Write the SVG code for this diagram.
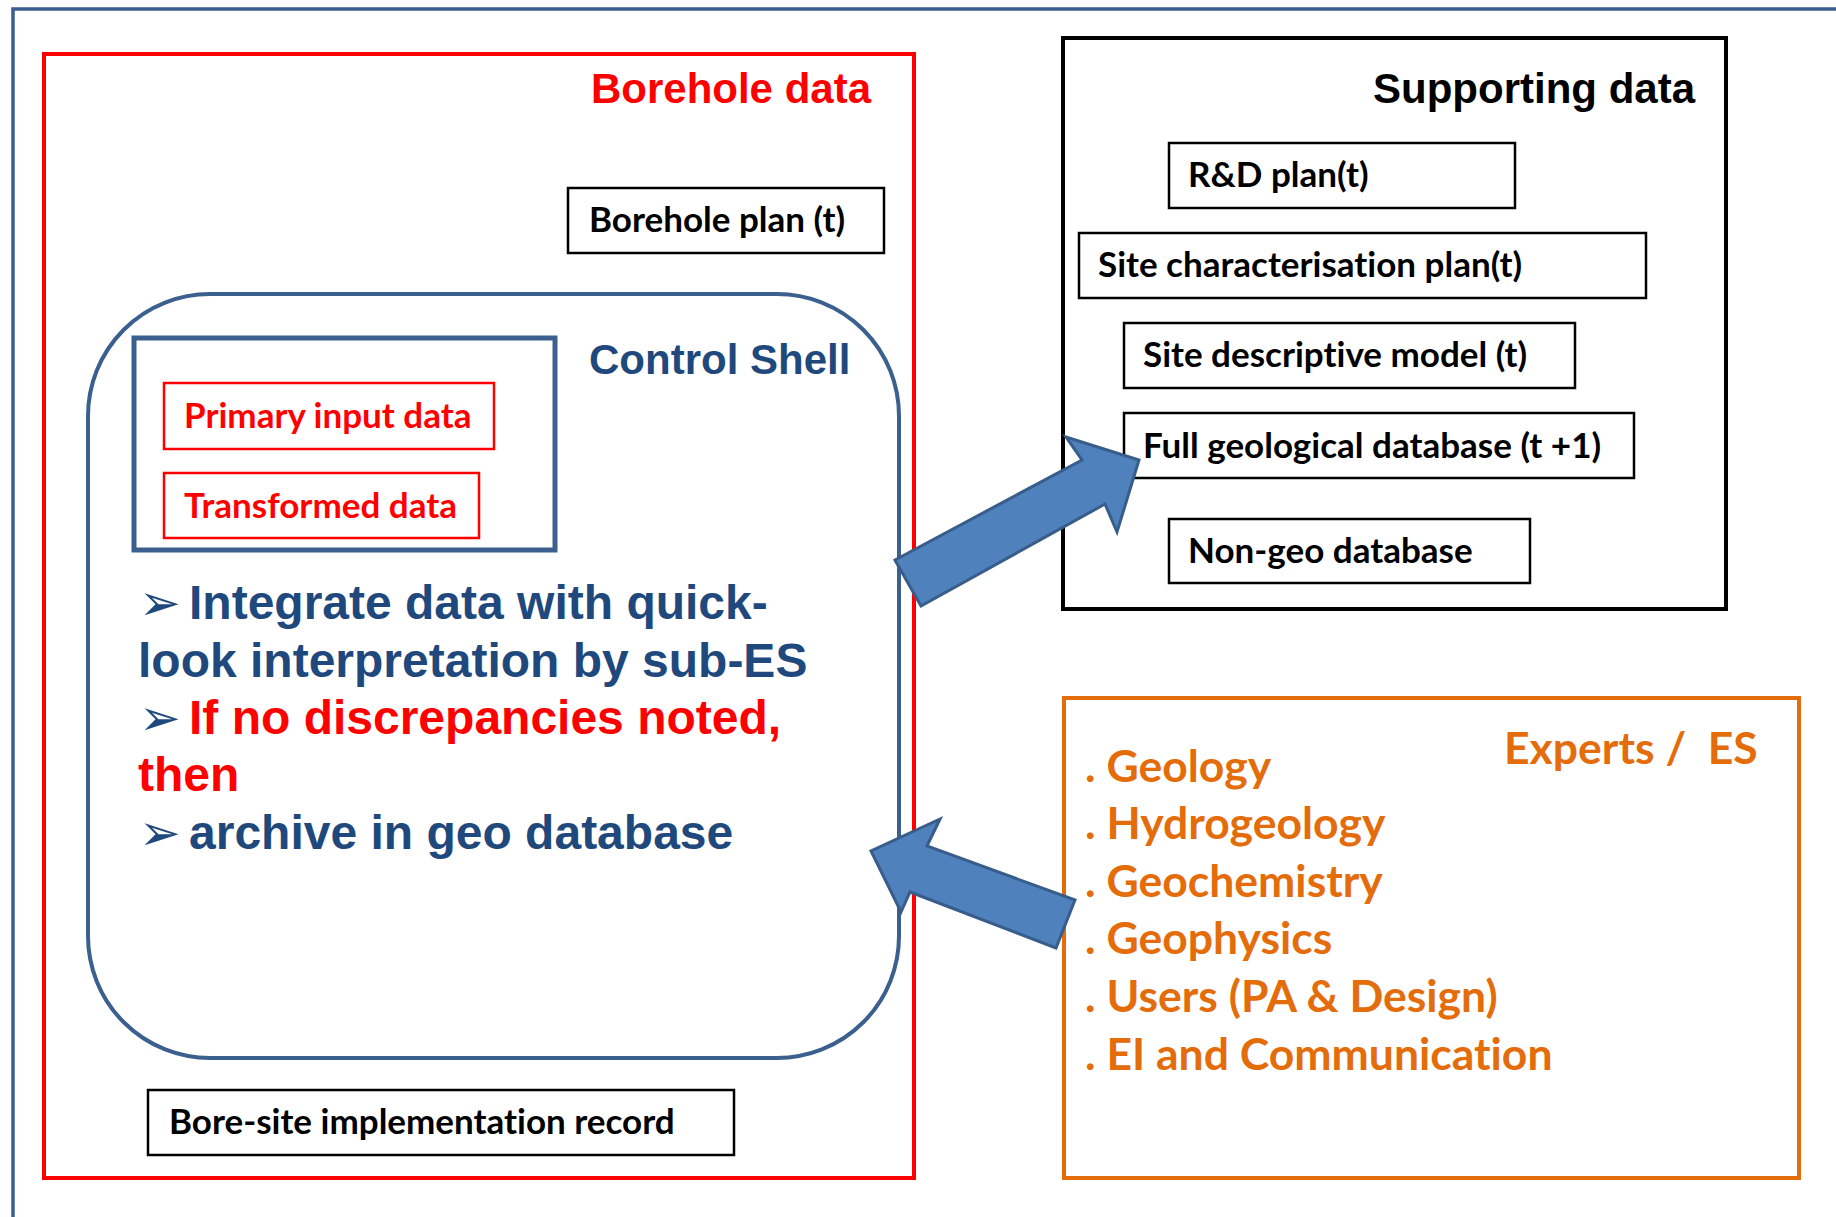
<svg xmlns="http://www.w3.org/2000/svg" width="1836" height="1217" viewBox="0 0 1836 1217">
<style>
.title{font-family:"Liberation Sans",Arial,sans-serif;font-weight:bold;font-size:42px}
.box{fill:#fff;stroke:#000;stroke-width:2.5}
.rbox{fill:#fff;stroke:#FF0000;stroke-width:2.5}
.bt{font-family:Lato,"Open Sans",sans-serif;font-weight:bold;font-size:35px;fill:#000;font-variant-ligatures:none}
.rt{font-family:Lato,"Open Sans",sans-serif;font-weight:bold;font-size:35px;fill:#FF0000;font-variant-ligatures:none}
.bul{font-family:"Liberation Sans",Arial,sans-serif;font-weight:bold;font-size:48px}
.glyph{font-family:"DejaVu Sans",sans-serif;font-size:50px;fill:#1F497D}
.exp{font-family:Lato,"Open Sans",sans-serif;font-weight:bold;font-size:44.5px;fill:#E46C0A;font-variant-ligatures:none}
.arrow{fill:#4F81BD;stroke:#385D8A;stroke-width:3;stroke-linejoin:miter}
</style>
<rect width="1836" height="1217" fill="#fff"/>
<g id="frame">
<rect x="13" y="9" width="1850" height="1230" fill="none" stroke="#3B5F8E" stroke-width="3.5"/>
</g>
<g id="borehole-data">
<rect x="44" y="54" width="870" height="1124" fill="none" stroke="#FF0000" stroke-width="4"/>
<text class="title" x="871" y="103" text-anchor="end" fill="#FF0000">Borehole data</text>
</g>
<g id="borehole-plan">
<rect class="box" x="568" y="188" width="316" height="65"/>
<text class="bt" x="589" y="232">Borehole plan (t)</text>
</g>
<g id="control-shell">
<rect x="88" y="294" width="811" height="764" rx="122" ry="122" fill="none" stroke="#3B5F8E" stroke-width="4"/>
<text class="title" x="589" y="374" fill="#1F497D">Control Shell</text>
<rect x="134" y="338" width="421" height="212" fill="none" stroke="#3B5F8E" stroke-width="5"/>
</g>
<g id="primary-input">
<rect class="rbox" x="164" y="383" width="330" height="66"/>
<text class="rt" x="184" y="428">Primary input data</text>
</g>
<g id="transformed">
<rect class="rbox" x="164" y="473" width="315" height="65"/>
<text class="rt" x="184" y="518">Transformed data</text>
</g>
<g id="bullets">
<text class="glyph" x="139" y="620">➢</text>
<text class="bul" x="189" y="619" fill="#1F497D">Integrate data with quick-</text>
<text class="bul" x="138" y="677" fill="#1F497D">look interpretation by sub-ES</text>
<text class="glyph" x="139" y="735">➢</text>
<text class="bul" x="189" y="734" fill="#FF0000">If no discrepancies noted,</text>
<text class="bul" x="138" y="791" fill="#FF0000">then</text>
<text class="glyph" x="139" y="850">➢</text>
<text class="bul" x="189" y="849" fill="#1F497D">archive in geo database</text>
</g>
<g id="bore-site-record">
<rect class="box" x="148" y="1090" width="586" height="65"/>
<text class="bt" x="169" y="1134">Bore-site implementation record</text>
</g>
<g id="supporting-data">
<rect x="1063" y="38" width="663" height="571" fill="none" stroke="#000" stroke-width="4"/>
<text class="title" x="1695" y="103" text-anchor="end" fill="#000">Supporting data</text>
</g>
<g id="rd-plan">
<rect class="box" x="1169" y="143" width="346" height="65"/>
<text class="bt" x="1188" y="187">R&amp;D plan(t)</text>
</g>
<g id="site-char-plan">
<rect class="box" x="1079" y="233" width="567" height="65"/>
<text class="bt" x="1098" y="277">Site characterisation plan(t)</text>
</g>
<g id="site-desc-model">
<rect class="box" x="1124" y="323" width="451" height="65"/>
<text class="bt" x="1143" y="367">Site descriptive model (t)</text>
</g>
<g id="full-geo-db">
<rect class="box" x="1124" y="413" width="510" height="65"/>
<text class="bt" x="1143" y="458">Full geological database (t +1)</text>
</g>
<g id="non-geo-db">
<rect class="box" x="1169" y="519" width="361" height="64"/>
<text class="bt" x="1188" y="563">Non-geo database</text>
</g>
<g id="experts">
<rect x="1064" y="698" width="735" height="480" fill="none" stroke="#E46C0A" stroke-width="4"/>
<text class="exp" x="1504" y="764" xml:space="preserve">Experts /  ES</text>
<text class="exp" x="1085" y="782">. Geology</text>
<text class="exp" x="1085" y="839">. Hydrogeology</text>
<text class="exp" x="1085" y="897">. Geochemistry</text>
<text class="exp" x="1085" y="954">. Geophysics</text>
<text class="exp" x="1085" y="1012">. Users (PA &amp; Design)</text>
<text class="exp" x="1085" y="1070">. EI and Communication</text>
</g>
<g id="connectors">
<polygon class="arrow" points="895,560 1082,460 1066,437 1139,460 1117,532 1105,504 921,606"/>
<polygon class="arrow" points="1075,900 927,846 940,819 871,851 901,912 910,892 1056,948"/>
</g>
</svg>
